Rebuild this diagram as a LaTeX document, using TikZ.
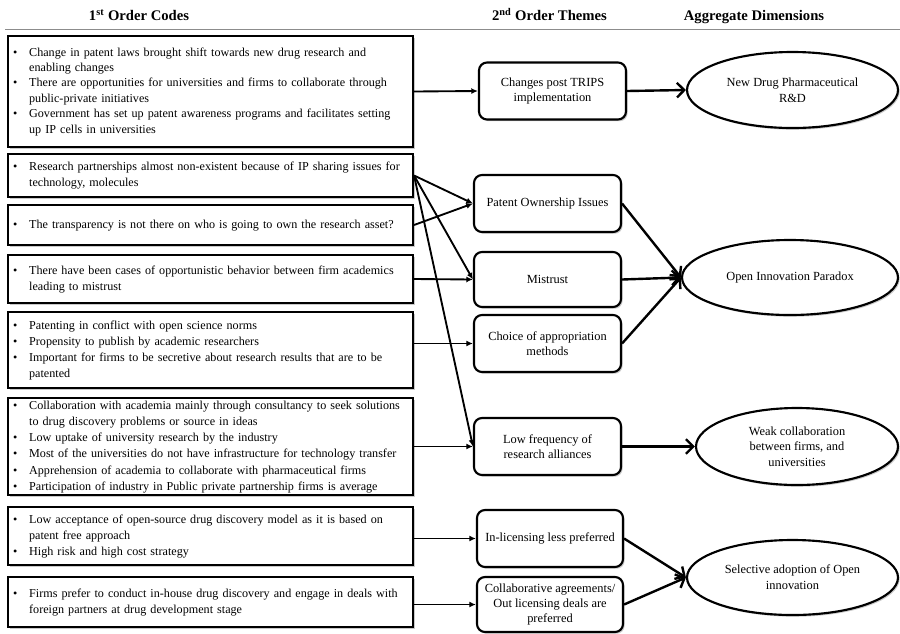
\documentclass[tikz,border=0pt]{standalone}
\usepackage{fontspec}
\setmainfont{Liberation Serif}
\usetikzlibrary{arrows.meta,shapes.geometric,shadows}

\newcommand{\bl}{\textbullet}
\newcommand{\itemlist}[1]{\begin{tabular}{@{}p{12pt}@{}l@{}}#1\end{tabular}}

\tikzset{
  softshadow/.style={drop shadow={shadow xshift=1.2pt, shadow yshift=-1.3pt, opacity=0.3, fill=black!70}},
  codebox/.style={draw, line width=1.6pt, fill=white, softshadow,
    minimum width=303.75pt, inner xsep=3.5pt, inner ysep=0pt,
    text width=296pt, align=left, font=\fontsize{9.1}{12}\selectfont},
  themebox/.style={draw, rounded corners=6pt, line width=1.6pt, fill=white, softshadow,
    minimum width=110.25pt, minimum height=42.75pt, inner sep=1pt,
    align=center, font=\fontsize{9.3}{11.6}\selectfont},
  dimell/.style={ellipse, draw, line width=1.6pt, fill=white, softshadow,
    inner sep=0pt, align=center, font=\fontsize{9.3}{11.8}\selectfont},
  hdr/.style={anchor=base, font=\bfseries\fontsize{11}{13}\selectfont},
  link/.style={line width=1.4pt, -{Latex[length=5pt,width=4.5pt]}},
  biglink/.style={line width=1.8pt, -{Straight Barb[length=5.5pt,width=11pt]}},
  rule/.style={draw=black!45, line width=0.8pt}
}

\begin{document}
\begin{tikzpicture}[x=0.75pt, y=-0.75pt]
\useasboundingbox (0,0) rectangle (900,633);

% headers
\node[hdr] (h1) at (139,20.5) {1\textsuperscript{st} Order Codes};
\node[hdr] (h2) at (549.5,20.5) {2\textsuperscript{nd} Order Themes};
\node[hdr] (h3) at (754,20.5) {Aggregate Dimensions};
\coordinate (hl) at (5,29.5);
\coordinate (hr) at (900,29.5);
\draw[rule] (hl) -- (hr);

% first order codes
\node[codebox, minimum height=83.25pt, font=\fontsize{9.1}{11.55}\selectfont] (b1) at (210.5,91.5) {\itemlist{%
\bl & Change in patent laws brought shift towards new drug research and\\
    & enabling changes\\
\bl & There are opportunities for universities and firms to collaborate through\\
    & public-private initiatives\\
\bl & Government has set up patent awareness programs and facilitates setting\\
    & up IP cells in universities}};

\node[codebox, minimum height=32.25pt, font=\fontsize{9.1}{11.3}\selectfont] (b2) at (210.5,175.5) {\itemlist{%
\bl & Research partnerships almost non-existent because of IP sharing issues for\\
    & technology, molecules}};

\node[codebox, minimum height=30pt] (b3) at (210.5,225) {\itemlist{%
\bl & The transparency is not there on who is going to own the research asset?}};

\node[codebox, minimum height=36pt] (b4) at (210.5,279) {\itemlist{%
\bl & There have been cases of opportunistic behavior between firm academics\\
    & leading to mistrust}};

\node[codebox, minimum height=57pt] (b5) at (210.5,350) {\itemlist{%
\bl & Patenting in conflict with open science norms\\
\bl & Propensity to publish by academic researchers\\
\bl & Important for firms to be secretive about research results that are to be\\
    & patented}};

\node[codebox, minimum height=72.75pt, font=\fontsize{9.1}{12.15}\selectfont] (b6) at (210.5,446.5) {\itemlist{%
\bl & Collaboration with academia mainly through consultancy to seek solutions\\
    & to drug discovery problems or source in ideas\\
\bl & Low uptake of university research by the industry\\
\bl & Most of the universities do not have infrastructure for technology transfer\\
\bl & Apprehension of academia to collaborate with pharmaceutical firms\\
\bl & Participation of industry in Public private partnership firms is average}};

\node[codebox, minimum height=43.5pt, font=\fontsize{9.1}{12.15}\selectfont] (b7) at (210.5,536) {\itemlist{%
\bl & Low acceptance of open-source drug discovery model as it is based on\\
    & patent free approach\\
\bl & High risk and high cost strategy}};

\node[codebox, minimum height=37.5pt] (b8) at (210.5,602) {\itemlist{%
\bl & Firms prefer to conduct in-house drug discovery and engage in deals with\\
    & foreign partners at drug development stage}};

% second order themes
\node[themebox, font=\fontsize{9.3}{11.25}\selectfont] (trips) at (552.5,91) {Changes post TRIPS\\implementation};
\node[themebox] (patent) at (547.5,203.5) {Patent Ownership Issues};
\node[themebox, minimum height=41.25pt] (mistrust) at (547.5,279.5) {Mistrust};
\node[themebox] (choice) at (547.5,343.5) {Choice of appropriation\\methods};
\node[themebox] (lowfreq) at (547.5,446.5) {Low frequency of\\research alliances};
\node[themebox, minimum width=109.5pt] (inlic) at (550,538.5) {In-licensing less preferred};
\node[themebox, minimum width=109.5pt, minimum height=41.25pt] (collab) at (550,604.5) {Collaborative agreements/\\Out licensing deals are\\preferred};

% aggregate dimensions
\node[dimell, minimum width=158.25pt, minimum height=57pt] (newdrug) at (792.5,90) {New Drug Pharmaceutical\\R\&D};
\node[dimell, minimum width=162pt, minimum height=56.25pt] (open) at (790,277.5) {Open Innovation Paradox};
\node[dimell, minimum width=151.5pt, minimum height=57.75pt] (weak) at (797,446.5) {Weak collaboration\\between firms, and\\universities};
\node[dimell, minimum width=158.25pt, minimum height=56.25pt] (sel) at (792.5,577.5) {Selective adoption of Open\\innovation};

% first -> second
\draw[link] (b1.east) -- (trips.west);
\draw[link] (b2.east) -- (patent.west);
\draw[link] (b2.east) -- (mistrust.west);
\draw[link] (b2.east) -- (lowfreq.west);
\draw[link] (b3.east) -- (patent.west);
\draw[link] (b4.east) -- (mistrust.west);
\draw[link] (choice.west -| b5.east) -- (choice.west);
\draw[link] (b6.east) -- (lowfreq.west);
\draw[link] (inlic.west -| b7.east) -- (inlic.west);
\draw[link] (collab.west -| b8.east) -- (collab.west);

% second -> aggregate
\draw[biglink] (trips.east) -- (newdrug.west);
\draw[biglink] (patent.east) -- (open.west);
\draw[biglink] (mistrust.east) -- (open.west);
\draw[biglink] (choice.east) -- (open.west);
\draw[biglink] (lowfreq.east) -- (weak.west);
\draw[biglink] (inlic.east) -- (sel.west);
\draw[biglink] (collab.east) -- (sel.west);
\end{tikzpicture}
\end{document}
